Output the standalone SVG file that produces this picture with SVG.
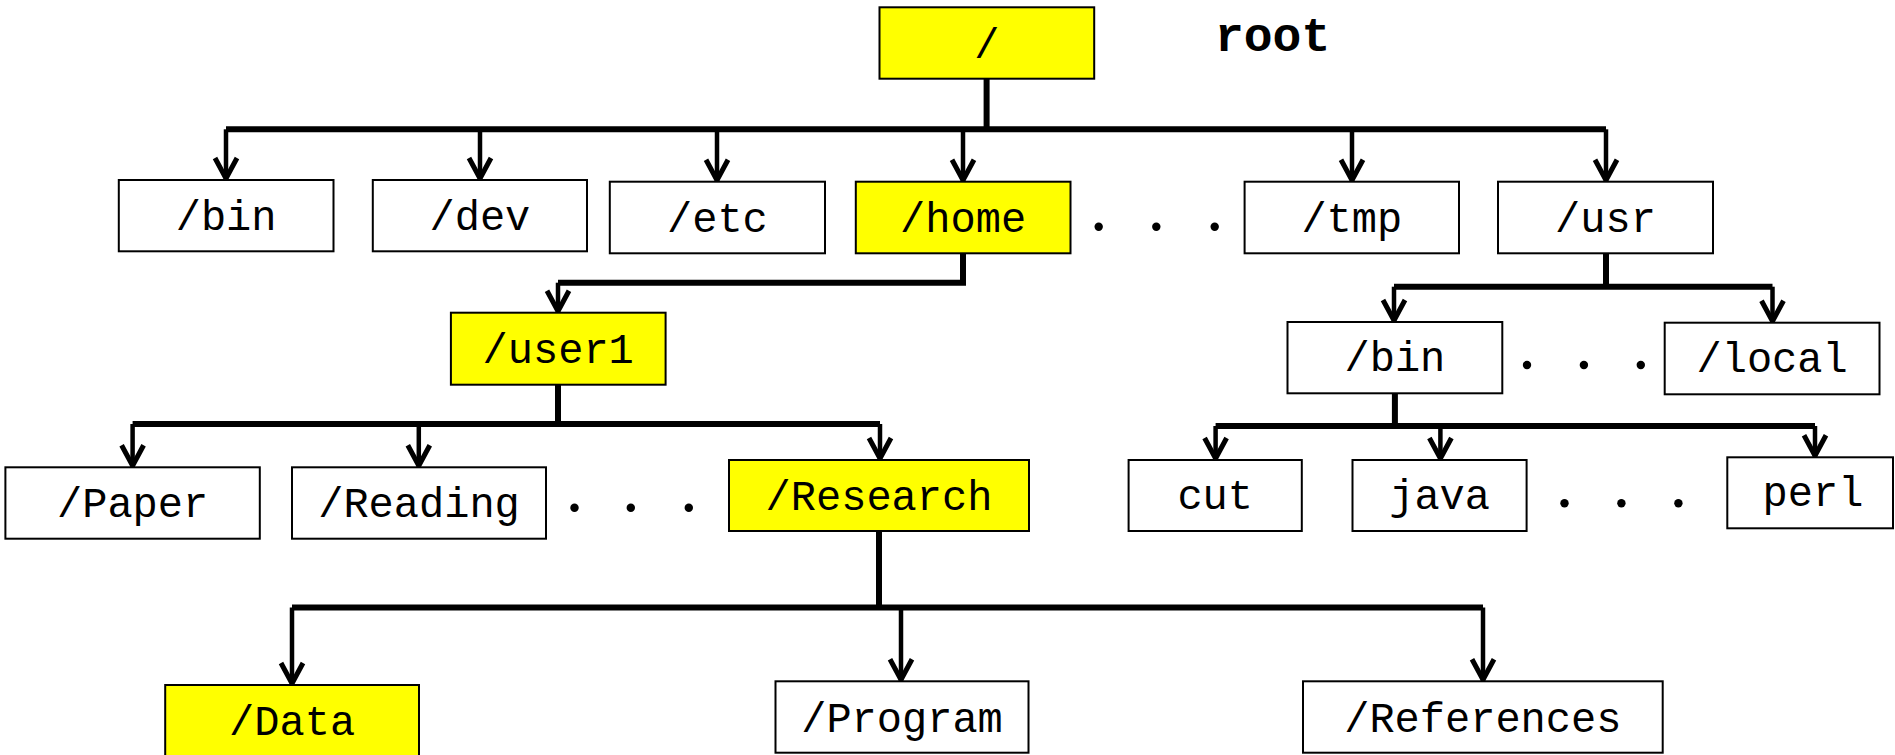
<svg xmlns="http://www.w3.org/2000/svg" width="1895" height="755" viewBox="0 0 1895 755">
  <style>
    .box { fill: #ffffff; stroke: #000000; stroke-width: 2; }
    .hl { fill: #ffff00; }
    .lbl { font-family: "Liberation Mono", "Courier New", monospace; font-size: 42px; fill: #000000; text-anchor: middle; }
    .title { font-family: "Liberation Mono", "Courier New", monospace; font-size: 48px; font-weight: bold; fill: #000000; }
    .bus { fill: none; stroke: #000000; stroke-width: 6; stroke-linejoin: miter; }
    .arr { fill: none; stroke: #000000; stroke-width: 4.5; marker-end: url(#vhead); }
    .dot { fill: #000000; }
  </style>
  <defs>
    <marker id="vhead" markerUnits="userSpaceOnUse" markerWidth="30" markerHeight="30" viewBox="-26 -15 30 30" refX="0" refY="0" orient="auto" overflow="visible">
      <path d="M-22,-11 L-1.5,0 L-22,11" fill="none" stroke="#000000" stroke-width="5" stroke-linejoin="miter"/>
    </marker>
  </defs>

  <rect width="1895" height="755" fill="#ffffff"/>

  <!-- connectors -->
  <g id="connectors">
    <!-- / to first level -->
    <path class="bus" d="M986.6,78.7 V129.3"/>
    <path class="bus" d="M226,129.3 H1606"/>
    <path class="arr" d="M226,129.3 V180"/>
    <path class="arr" d="M480,129.3 V180"/>
    <path class="arr" d="M717,129.3 V181.7"/>
    <path class="arr" d="M963,129.3 V181.7"/>
    <path class="arr" d="M1352,129.3 V181.7"/>
    <path class="arr" d="M1606,129.3 V181.7"/>

    <!-- /home to /user1 -->
    <path class="bus" d="M963,253.3 V282.7 H558"/>
    <path class="arr" d="M558,282.7 V312.7"/>

    <!-- /user1 children -->
    <path class="bus" d="M558,384.7 V424"/>
    <path class="bus" d="M132.6,424 H880"/>
    <path class="arr" d="M132.6,424 V467.3"/>
    <path class="arr" d="M418.8,424 V467.3"/>
    <path class="arr" d="M880,424 V460"/>

    <!-- /usr children -->
    <path class="bus" d="M1606,253.3 V286.7"/>
    <path class="bus" d="M1394,286.7 H1772.5"/>
    <path class="arr" d="M1394,286.7 V322"/>
    <path class="arr" d="M1772.5,286.7 V322.7"/>

    <!-- /usr/bin children -->
    <path class="bus" d="M1394.9,393.3 V426"/>
    <path class="bus" d="M1215.6,426 H1815"/>
    <path class="arr" d="M1215.6,426 V460"/>
    <path class="arr" d="M1440.4,426 V460"/>
    <path class="arr" d="M1815,426 V457.3"/>

    <!-- /Research children -->
    <path class="bus" d="M879,531 V607.5"/>
    <path class="bus" d="M292,607.5 H1483"/>
    <path class="arr" d="M292,607.5 V685"/>
    <path class="arr" d="M901,607.5 V681.3"/>
    <path class="arr" d="M1483,607.5 V681.3"/>
  </g>

  <!-- nodes -->
  <g id="n-root">
    <rect class="box hl" x="879.5" y="7.3" width="214.7" height="71.4"/>
    <text class="lbl" x="986.8" y="58">/</text>
  </g>
  <text id="root-caption" class="title" x="1215" y="51">root</text>

  <g id="n-bin">
    <rect class="box" x="118.8" y="180" width="214.7" height="71.3"/>
    <text class="lbl" x="226.1" y="230">/bin</text>
  </g>
  <g id="n-dev">
    <rect class="box" x="372.8" y="180" width="214.2" height="71.3"/>
    <text class="lbl" x="479.9" y="230">/dev</text>
  </g>
  <g id="n-etc">
    <rect class="box" x="609.8" y="181.7" width="215.2" height="71.6"/>
    <text class="lbl" x="717.4" y="232">/etc</text>
  </g>
  <g id="n-home">
    <rect class="box hl" x="855.8" y="181.7" width="214.7" height="71.6"/>
    <text class="lbl" x="963.1" y="232">/home</text>
  </g>
  <g id="n-tmp">
    <rect class="box" x="1244.6" y="181.7" width="214.4" height="71.6"/>
    <text class="lbl" x="1351.8" y="232">/tmp</text>
  </g>
  <g id="n-usr">
    <rect class="box" x="1498" y="181.7" width="215" height="71.6"/>
    <text class="lbl" x="1605.5" y="232">/usr</text>
  </g>

  <g id="dots-top">
    <circle class="dot" cx="1098.7" cy="226.7" r="4.2"/>
    <circle class="dot" cx="1156.3" cy="226.7" r="4.2"/>
    <circle class="dot" cx="1214.7" cy="226.7" r="4.2"/>
  </g>

  <g id="n-user1">
    <rect class="box hl" x="450.9" y="312.7" width="214.7" height="72"/>
    <text class="lbl" x="558.2" y="363.3">/user1</text>
  </g>

  <g id="n-paper">
    <rect class="box" x="5.4" y="467.3" width="254.4" height="71.4"/>
    <text class="lbl" x="132.6" y="517">/Paper</text>
  </g>
  <g id="n-reading">
    <rect class="box" x="292" y="467.3" width="254" height="71.4"/>
    <text class="lbl" x="419" y="517">/Reading</text>
  </g>
  <g id="dots-user1">
    <circle class="dot" cx="574.5" cy="507.7" r="4.2"/>
    <circle class="dot" cx="630.8" cy="507.7" r="4.2"/>
    <circle class="dot" cx="688.8" cy="507.7" r="4.2"/>
  </g>
  <g id="n-research">
    <rect class="box hl" x="729" y="460" width="300" height="71"/>
    <text class="lbl" x="879" y="510">/Research</text>
  </g>

  <g id="n-usr-bin">
    <rect class="box" x="1287.5" y="322" width="214.8" height="71.3"/>
    <text class="lbl" x="1394.9" y="371">/bin</text>
  </g>
  <g id="dots-usr">
    <circle class="dot" cx="1527" cy="365" r="4.2"/>
    <circle class="dot" cx="1583.9" cy="365" r="4.2"/>
    <circle class="dot" cx="1640.8" cy="365" r="4.2"/>
  </g>
  <g id="n-local">
    <rect class="box" x="1664.7" y="322.7" width="214.8" height="71.6"/>
    <text class="lbl" x="1772.1" y="372.3">/local</text>
  </g>

  <g id="n-cut">
    <rect class="box" x="1128.6" y="460" width="173.2" height="71"/>
    <text class="lbl" x="1215.2" y="509.3">cut</text>
  </g>
  <g id="n-java">
    <rect class="box" x="1352.5" y="460" width="174.1" height="71"/>
    <text class="lbl" x="1439.6" y="509.3">java</text>
  </g>
  <g id="dots-bin">
    <circle class="dot" cx="1564.5" cy="503.3" r="4.2"/>
    <circle class="dot" cx="1621.4" cy="503.3" r="4.2"/>
    <circle class="dot" cx="1678.4" cy="503.3" r="4.2"/>
  </g>
  <g id="n-perl">
    <rect class="box" x="1727.3" y="457.3" width="165.7" height="71"/>
    <text class="lbl" x="1813" y="506">perl</text>
  </g>

  <g id="n-data">
    <rect class="box hl" x="165.2" y="685" width="253.8" height="72"/>
    <text class="lbl" x="292.1" y="735">/Data</text>
  </g>
  <g id="n-program">
    <rect class="box" x="775.5" y="681.3" width="253" height="71.4"/>
    <text class="lbl" x="902" y="731.7">/Program</text>
  </g>
  <g id="n-references">
    <rect class="box" x="1303" y="681.3" width="359.7" height="71.4"/>
    <text class="lbl" x="1482.8" y="731.7">/References</text>
  </g>
</svg>
